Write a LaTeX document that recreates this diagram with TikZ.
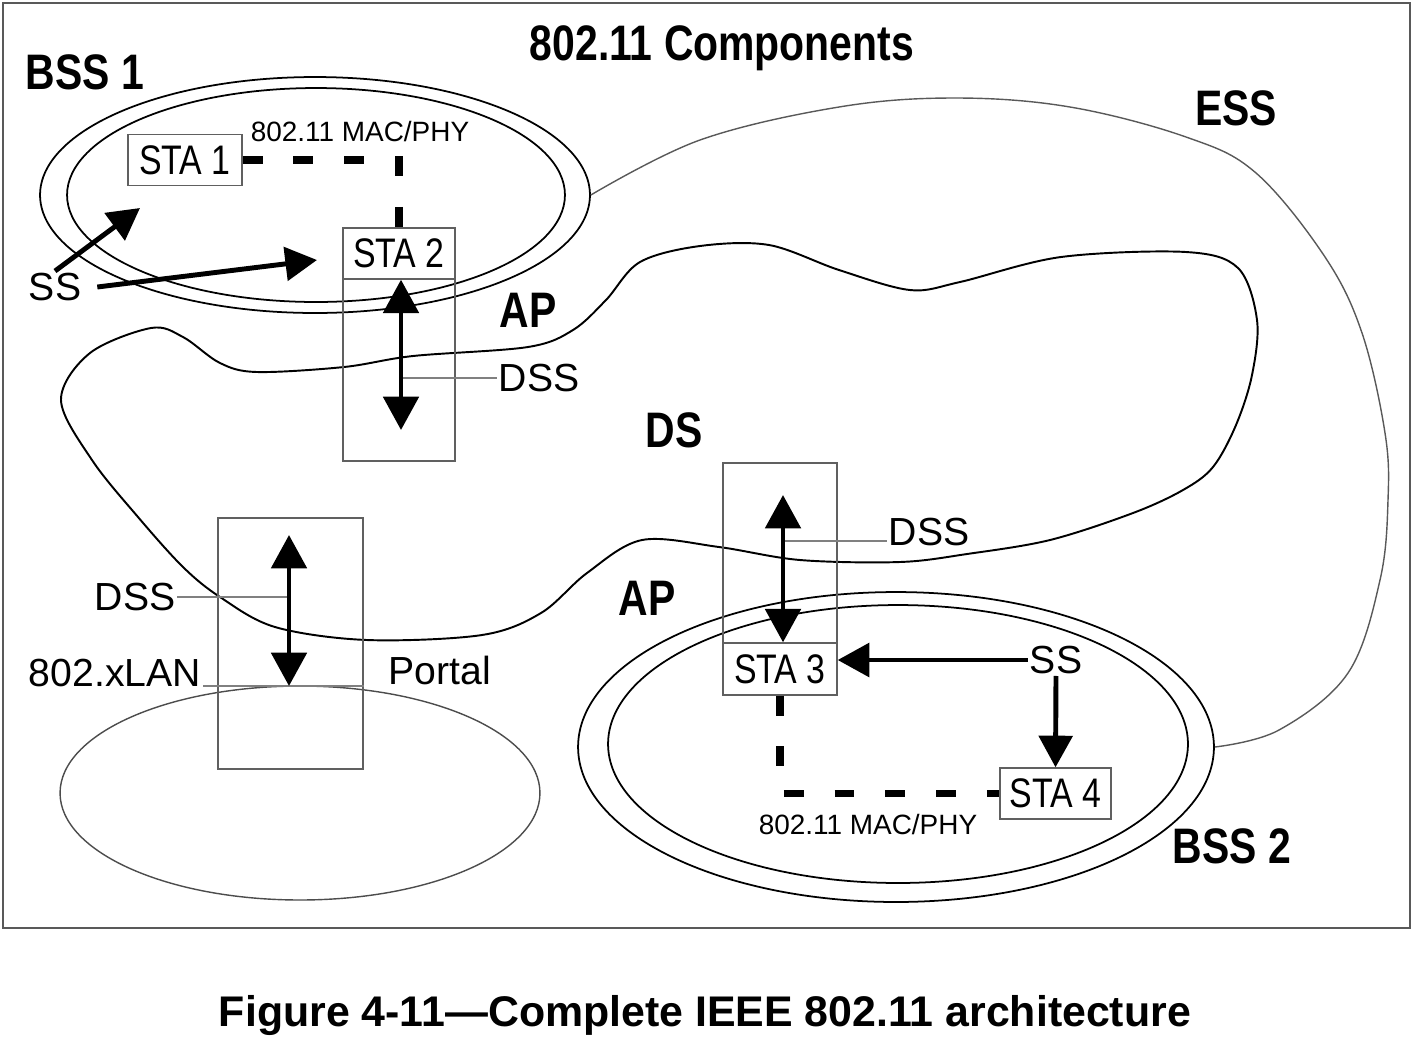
\documentclass[tikz,border=0pt]{standalone}
\usepackage{fontspec}
\setmainfont{Liberation Sans}
\newfontfamily\narrowfont[FakeStretch=0.82]{Liberation Sans}
\usetikzlibrary{arrows.meta,shapes.geometric}
\begin{document}
\begin{tikzpicture}[x=0.02cm,y=-0.02cm,
	big/.style={font=\narrowfont\bfseries\fontsize{28.4}{30}\selectfont},
	lbl/.style={font=\fontsize{22.3}{24}\selectfont,inner sep=1pt},
	stabox/.style={draw=gray!75!black,line width=0.8pt,inner sep=0pt,font=\narrowfont\fontsize{23.5}{25}\selectfont},
	apbox/.style={draw=gray!75!black,line width=0.8pt,inner sep=0pt},
	tiny/.style={font=\fontsize{15.9}{17}\selectfont},
	fat/.style={line width=2.8pt,{Triangle[length=19pt,width=20pt]}-{Triangle[length=19pt,width=20pt]}},
	fatto/.style={line width=2.8pt,-{Triangle[length=18pt,width=19pt]}},
	macphy/.style={line width=4.5pt,dash pattern=on 11.3pt off 17.6pt},
	leader/.style={gray,line width=0.8pt},
	ring/.style={ellipse,draw,line width=1pt,inner sep=0pt}]
	\useasboundingbox (0,0) rectangle (1422,1046);
	\draw[gray!70!black,line width=1.2pt] (3,3) rectangle (1410,928);
	
	% service sets
	\node[ring,minimum width=11cm,minimum height=4.72cm] (bss1o) at (315,195) {};
	\node[ring,minimum width=9.96cm,minimum height=4.28cm] (bss1i) at (316,195) {};
	\node[ring,minimum width=12.72cm,minimum height=6.2cm] (bss2o) at (896,747) {};
	\node[ring,minimum width=11.6cm,minimum height=5.56cm] (bss2i) at (898,744) {};
	\node[ring,draw=gray!60!black,line width=0.8pt,minimum width=9.6cm,minimum height=4.28cm] (lanset) at (300,793) {};
	\draw[gray!70!black,line width=0.8pt,smooth,tension=0.6] plot coordinates {(bss1o.east) (700,140) (839,107) (955,98) (1070,107) (1186,137) (1256,173) (1325,257) (1362,333) (1385,433) (1388,500) (1380,580) (1348,673) (1279,730) (bss2o.east)};
	\draw[line width=1.1pt,smooth cycle,tension=0.55] plot coordinates {(61,400) (90,353) (151,328) (183,337) (220,363) (257,372) (344,367) (413,356) (528,347) (573,330) (606,300) (640,262) (700,246) (769,245) (839,270) (910,290) (960,282) (1061,257) (1186,252) (1238,268) (1257,320) (1252,375) (1236,425) (1213,467) (1183,490) (1133,513) (1050,540) (967,554) (900,562) (800,560) (719,547) (642,540) (587,573) (541,613) (482,635) (367,640) (275,627) (220,597) (183,567) (138,517) (92,460)};
	
	% stations and boxes
	\node[stabox,minimum width=2.28cm,minimum height=1.02cm] (sta1) at (185,160) {STA 1};
	\node[apbox,minimum width=2.24cm,minimum height=4.66cm] (ap1) at (399,344.5) {};
	\node[stabox,minimum width=2.24cm,minimum height=1.02cm] (sta2) at (399,253.5) {STA 2};
	\node[apbox,minimum width=2.9cm,minimum height=5.02cm] (portalbox) at (290.5,643.5) {};
	\node[apbox,minimum width=2.28cm,minimum height=4.64cm] (ap2) at (780,579) {};
	\node[stabox,minimum width=2.28cm,minimum height=1.04cm] (sta3) at (780,669) {STA 3};
	\node[stabox,minimum width=2.22cm,minimum height=1.02cm] (sta4) at (1055.5,793.5) {STA 4};
	
	% labels
	\node[big] (title) at (722,48) {802.11 Components};
	\node[big] (bss1) at (85,72) {BSS 1};
	\node[big] (ess) at (1236,108) {ESS};
	\node[big] (aplbl1) at (528,310) {AP};
	\node[big] (ds) at (674,430) {DS};
	\node[big] (aplbl2) at (647,598) {AP};
	\node[big] (bss2) at (1232,846) {BSS 2};
	\node[tiny] (mac1) at (360,132) {802.11 MAC/PHY};
	\node[tiny] (mac2) at (868,824) {802.11 MAC/PHY};
	\node[lbl] (ss1) at (55,287) {SS};
	\node[lbl] (ss2) at (1056,660) {SS};
	\node[lbl] (dss1) at (539,378) {DSS};
	\node[lbl] (dss2) at (929,532) {DSS};
	\node[lbl] (dss3) at (135,597) {DSS};
	\node[lbl] (lan) at (115,673) {802.xLAN};
	\node[lbl] (portal) at (440,670) {Portal};
	\node[font=\bfseries\fontsize{24.4}{26}\selectfont] (caption) at (705,1015) {Figure 4-11—Complete IEEE 802.11 architecture};
	
	% links
	\coordinate (sta1tip) at (140,208);
	\coordinate (sta2tip) at (317,260);
	\coordinate (ap1low) at (401,430);
	\coordinate (portaltop) at (289,535);
	\coordinate (lanline) at (0,686);
	\coordinate (ap2top) at (783,495);
	\draw[macphy] (sta1.east) -- (sta1.east -| sta2.north) -- (sta2.north);
	\draw[macphy] (sta3.south) -- (sta3.south |- sta4.west) -- (sta4.west);
	\draw[leader] (dss1.west) -- (dss1.west -| ap1low);
	\draw[leader] ([yshift=-5pt]dss2.west) -- ([yshift=-5pt]dss2.west -| ap2top);
	\draw[leader] (dss3.east) -- (dss3.east -| portaltop);
	\draw[leader] (lan.east |- lanline) -- (portalbox.east |- lanline);
	\draw[fatto] (ss1.north) -- (sta1tip);
	\draw[fatto] ([xshift=8pt]ss1.east) -- (sta2tip);
	\draw[fat] (sta2.south -| ap1low) -- (ap1low);
	\draw[fat] (portaltop) -- (portaltop |- lanline);
	\draw[fat] (ap2top) -- (ap2top |- sta3.north);
	\draw[fatto] (ss2.west) -- (ss2.west -| sta3.east);
	\draw[fatto] (ss2.south) -- (sta4.north);
\end{tikzpicture}
\end{document}
